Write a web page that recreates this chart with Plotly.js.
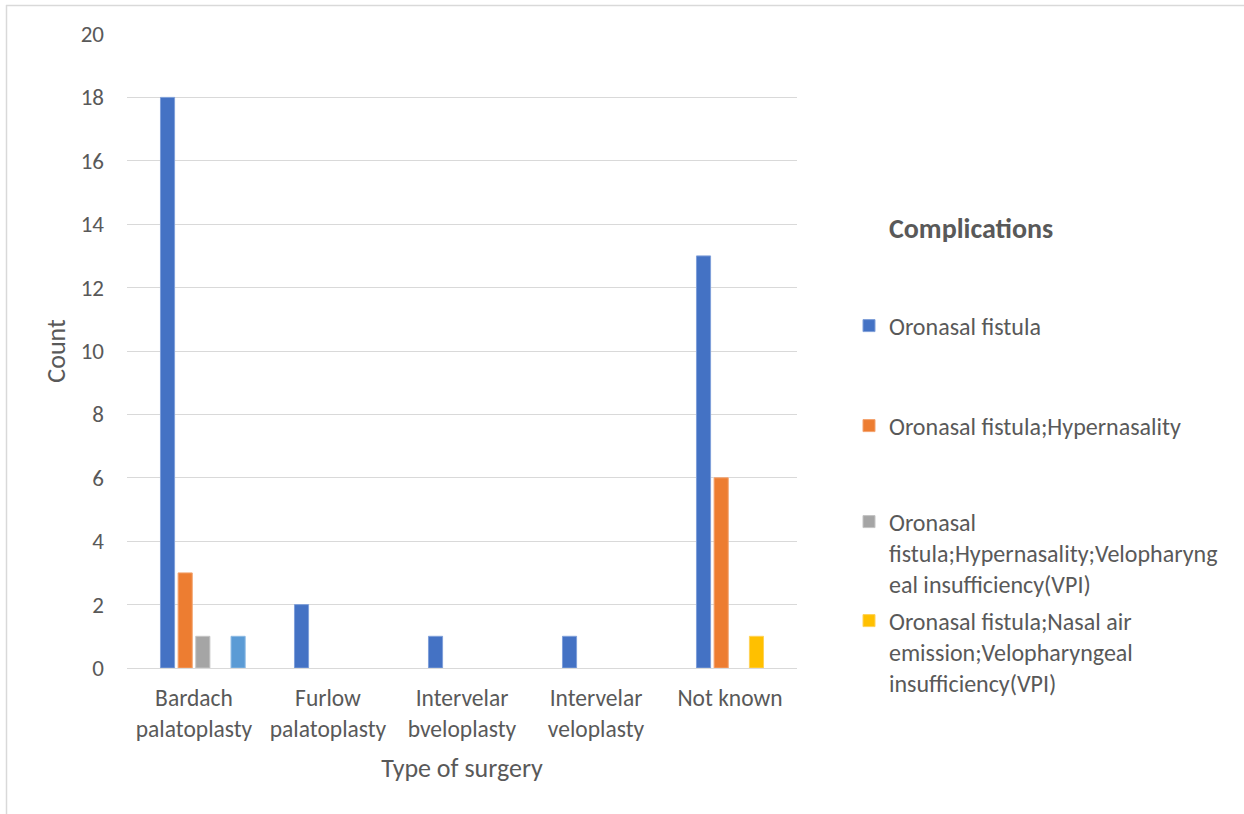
<!DOCTYPE html>
<html>
<head>
<meta charset="utf-8">
<script src="https://cdn.plot.ly/plotly-3.0.1.min.js"></script>
<style>
  html, body { margin: 0; padding: 0; background: #ffffff; }
  #chart { width: 1244px; height: 814px; }
</style>
</head>
<body>
<div id="chart"></div>
<script>
// ---- data ----
const categories = [
  "Bardach<br>palatoplasty",
  "Furlow<br>palatoplasty",
  "Intervelar<br>bveloplasty",
  "Intervelar<br>veloplasty",
  "Not known"
];
const seriesNames = [
  "(blank)",
  "Oronasal fistula",
  "Oronasal fistula;Hypernasality",
  "Oronasal<br>fistula;Hypernasality;Velopharyng<br>eal insufficiency(VPI)",
  "Oronasal fistula;Nasal air<br>emission;Velopharyngeal<br>insufficiency(VPI)",
  "Velopharyngeal insufficiency(VPI)"
];
const blankSeries = [null, null, null, null, null];
const oronasalFistula = [18, 2, 1, 1, 13];
const fistulaHypernasality = [3, null, null, null, 6];
const fistulaHyperVPI = [1, null, null, null, null];
const fistulaNasalAirVPI = [null, null, null, null, 1];
const otherSeries = [1, null, null, null, null];
const yTicks = [0, 2, 4, 6, 8, 10, 12, 14, 16, 18, 20];

// ---- styling ----
const colors = ["#70AD47", "#4472C4", "#ED7D31", "#A5A5A5", "#FFC000", "#5B9BD5"];
const edge = ["#9cc97f", "#7f9fd9", "#f3a36f", "#c4c4c4", "#ffd257", "#8bb9e3"];
const FONT = "Carlito, Lato, 'Open Sans', sans-serif";
const TXT = "#595959";

// pixel helpers for plot area (l=127, r=797, top=34, bottom=668)
const L = 127, R = 797, T = 34, B = 668;
const px = x => (x - L) / (R - L);
const py = y => (B - y) / (B - T);

const values = [blankSeries, oronasalFistula, fistulaHypernasality, fistulaHyperVPI, fistulaNasalAirVPI, otherSeries];
const legendIds = ["legend", "legend", "legend2", "legend3", "legend4", "legend"];
const shown = [false, true, true, true, true, false];
const traces = values.map((v, i) => ({
  type: "bar",
  name: seriesNames[i],
  x: categories,
  y: v,
  marker: { color: colors[i], line: { color: edge[i], width: 1 } },
  legend: legendIds[i],
  showlegend: shown[i],
  hoverinfo: "x+y+name"
}));

const legendBase = {
  xanchor: "left",
  yanchor: "middle",
  valign: "top",
  x: px(849),
  bgcolor: "rgba(0,0,0,0)",
  borderwidth: 0,
  font: { family: FONT, size: 24, color: TXT },
  itemclick: false
};

const layout = {
  width: 1244,
  height: 814,
  margin: { l: L, r: 1244 - R, t: T, b: 814 - B },
  paper_bgcolor: "#ffffff",
  plot_bgcolor: "#ffffff",
  font: { family: FONT, color: TXT },
  barmode: "group",
  bargap: 0.21,
  bargroupgap: 0.2,
  xaxis: {
    type: "category",
    showgrid: false,
    showline: true,
    linecolor: "#d9d9d9",
    linewidth: 1.3,
    ticks: "",
    tickfont: { family: FONT, size: 23.5, color: TXT },
    ticklabelstandoff: 9,
    title: { text: "Type of surgery", font: { family: FONT, size: 26, color: TXT }, standoff: 16 },
    automargin: false,
    fixedrange: true
  },
  yaxis: {
    range: [0, 20],
    tickvals: yTicks,
    ticktext: yTicks.map(String),
    showgrid: true,
    gridcolor: "#d9d9d9",
    gridwidth: 1.3,
    zeroline: false,
    showline: false,
    ticks: "",
    tickfont: { family: FONT, size: 23, color: TXT },
    ticklabelstandoff: 22,
    title: { text: "Count", font: { family: FONT, size: 26, color: TXT }, standoff: 7 },
    automargin: false,
    fixedrange: true
  },
  legend: Object.assign({}, legendBase, { y: py(326) }),
  legend2: Object.assign({}, legendBase, { y: py(426) }),
  legend3: Object.assign({}, legendBase, { y: py(553) }),
  legend4: Object.assign({}, legendBase, { y: py(652) }),
  annotations: [{
    text: "<b>Complications</b>",
    xref: "paper", yref: "paper",
    x: px(887), y: py(228),
    xanchor: "left", yanchor: "middle",
    showarrow: false,
    font: { family: FONT, size: 28, color: TXT }
  }],
  shapes: [
    { type: "line", xref: "paper", yref: "paper", x0: px(6.5), x1: px(6.5), y0: py(5), y1: py(820), line: { color: "#d9d9d9", width: 1.5 } },
    { type: "line", xref: "paper", yref: "paper", x0: px(6), x1: px(1250), y0: py(5.5), y1: py(5.5), line: { color: "#d9d9d9", width: 1.5 } }
  ],
  hovermode: "closest"
};

Plotly.newPlot("chart", traces, layout, { displayModeBar: false, responsive: false });
</script>
</body>
</html>
